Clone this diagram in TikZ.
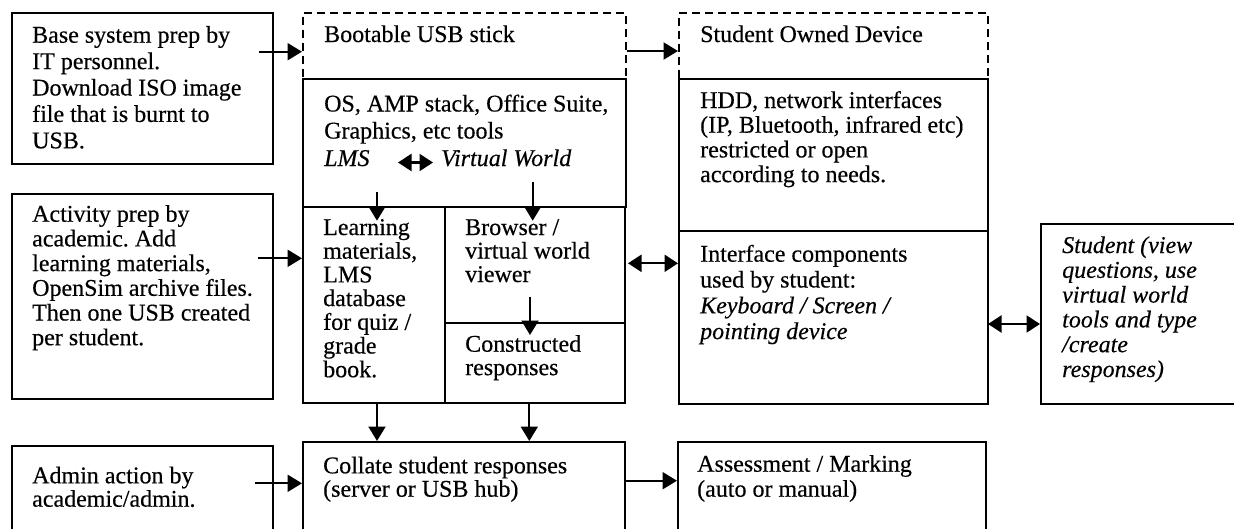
\documentclass[tikz,border=0pt]{standalone}
\usepackage{fontspec}
\setmainfont{Liberation Serif}[FakeBold=0.4,AutoFakeBold=0.4]
\usetikzlibrary{arrows.meta}
\frenchspacing
\newcommand\mylines[2]{\parbox[t]{400pt}{\setlength\baselineskip{#1}\raggedright #2}}
\begin{document}
\begin{tikzpicture}[x=1pt,y=-1pt,
  box/.style={draw,line width=2.1pt,anchor=north west,inner sep=0pt},
  dbox/.style={box,dash pattern=on 8pt off 5pt},
  txt/.style={anchor=base west,inner sep=0pt,font=\fontsize{24}{25}\selectfont\bfseries},
  arr/.style={line width=2.2pt,-{Triangle[length=14.5pt,width=17pt]}},
  dar/.style={line width=2.2pt,{Triangle[length=13.5pt,width=17pt]}-{Triangle[length=13.5pt,width=17pt]}}]
\useasboundingbox (0,0) rectangle (1234,528);
\clip (0,0) rectangle (1234,528);
% dashed boxes
\node[dbox,minimum width=322.5pt,minimum height=66pt] (usb) at (302,11.5) {};
\node[dbox,minimum width=309pt,minimum height=66pt] (sod) at (678,11.5) {};
% solid boxes
\node[box,minimum width=261pt,minimum height=151pt] (A) at (11,12) {};
\node[box,minimum width=261pt,minimum height=205pt] (B) at (11,193) {};
\node[box,minimum width=261pt,minimum height=120pt] (C) at (11,445) {};
\node[box,minimum width=322.5pt,minimum height=128.5pt] (os) at (302,77.5) {};
\node[box,minimum width=141.5pt,minimum height=196pt] (lm) at (302,206) {};
\node[box,minimum width=180.5pt,minimum height=116pt] (br) at (443.5,206) {};
\node[box,minimum width=180.5pt,minimum height=80pt] (cr) at (443.5,322) {};
\node[box,minimum width=322pt,minimum height=120pt] (col) at (302,441) {};
\node[box,minimum width=309pt,minimum height=152pt] (hdd) at (678,77.5) {};
\node[box,minimum width=309pt,minimum height=173pt] (ifc) at (678,229.5) {};
\node[box,minimum width=308pt,minimum height=120pt] (ass) at (677,441) {};
\node[box,minimum width=220pt,minimum height=180pt] (stu) at (1040,223) {};
% texts
\node[txt] (tA) at (32,42.7) {\mylines{26.4pt}{Base system prep by\\IT personnel.\\Download ISO image\\file that is burnt to\\USB.}};
\node[txt] (tB) at (32,221.7) {\mylines{24.7pt}{Activity prep by\\academic. Add\\learning materials,\\OpenSim archive files.\\Then one USB created\\per student.}};
\node[txt] (tC) at (32,483.3) {\mylines{23.4pt}{Admin action by\\academic/admin.}};
\node[txt] (tusb) at (324,42) {Bootable USB stick};
\node[txt] (tos) at (324,111.5) {\mylines{27pt}{OS, AMP stack, Office Suite,\\Graphics, etc tools}};
\node[txt] (lms) at (324,166) {\textit{LMS}};
\node[txt] (vw) at (441,166) {\textit{Virtual World}};
\node[txt] (tlm) at (323,235) {\mylines{23.7pt}{Learning\\materials,\\LMS\\database\\for quiz /\\grade\\book.}};
\node[txt] (tbr) at (465,235) {\mylines{23.5pt}{Browser /\\virtual world\\viewer}};
\node[txt] (tcr) at (465,351.7) {\mylines{23.4pt}{Constructed\\responses}};
\node[txt] (tcol) at (323,473.3) {\mylines{23.4pt}{Collate student responses\\(server or USB hub)}};
\node[txt] (tsod) at (700,42) {Student Owned Device};
\node[txt] (thdd) at (700,108) {\mylines{24.7pt}{HDD, network interfaces\\(IP, Bluetooth, infrared etc)\\restricted or open\\according to needs.}};
\node[txt] (tifc) at (700,261.7) {\mylines{25.8pt}{Interface components\\used by student:\\\textit{Keyboard / Screen /}\\\textit{pointing device}}};
\node[txt] (tass) at (697,471.7) {\mylines{25pt}{Assessment / Marking\\(auto or manual)}};
\node[txt] (tstu) at (1062,253) {\mylines{24.8pt}{\itshape Student (view\\questions, use\\virtual world\\tools and type\\/create\\responses)}};
% connector helper coordinates
\coordinate (a1) at (259,51.7);
\coordinate (y1) at (0,51);
\coordinate (l1) at (398,162.5);
\coordinate (l2) at (433,162.5);
\coordinate (d1) at (377,191.7);
\coordinate (d2) at (532.7,181.7);
\coordinate (d3) at (530,296.7);
\coordinate (x1) at (377,0);
\coordinate (x2) at (529.3,0);
\coordinate (b1) at (258,258.3);
\coordinate (c1) at (255,483.3);
\coordinate (y2) at (0,480.7);
\coordinate (e1) at (628,263.3);
\coordinate (e2) at (988,324);
% connectors
\draw[arr] (a1) -- (a1 -| usb.west);
\draw[arr] (usb.east |- y1) -- (sod.west |- y1);
\draw[dar] (l1) -- (l2);
\draw[arr] (d1) -- ([yshift=-14.7pt]d1 |- lm.north);
\draw[arr] (d2) -- ([yshift=-14.7pt]d2 |- br.north);
\draw[arr] (d3) -- ([yshift=-13pt]d3 |- cr.north);
\draw[arr] (lm.south -| x1) -- (col.north -| x1);
\draw[arr] (cr.south -| x2) -- (col.north -| x2);
\draw[arr] (b1) -- (b1 -| lm.west);
\draw[arr] (c1) -- (c1 -| col.west);
\draw[arr] (col.east |- y2) -- (ass.west |- y2);
\draw[dar] (e1) -- (e1 -| ifc.west);
\draw[dar] (e2) -- (e2 -| stu.west);
\end{tikzpicture}
\end{document}
